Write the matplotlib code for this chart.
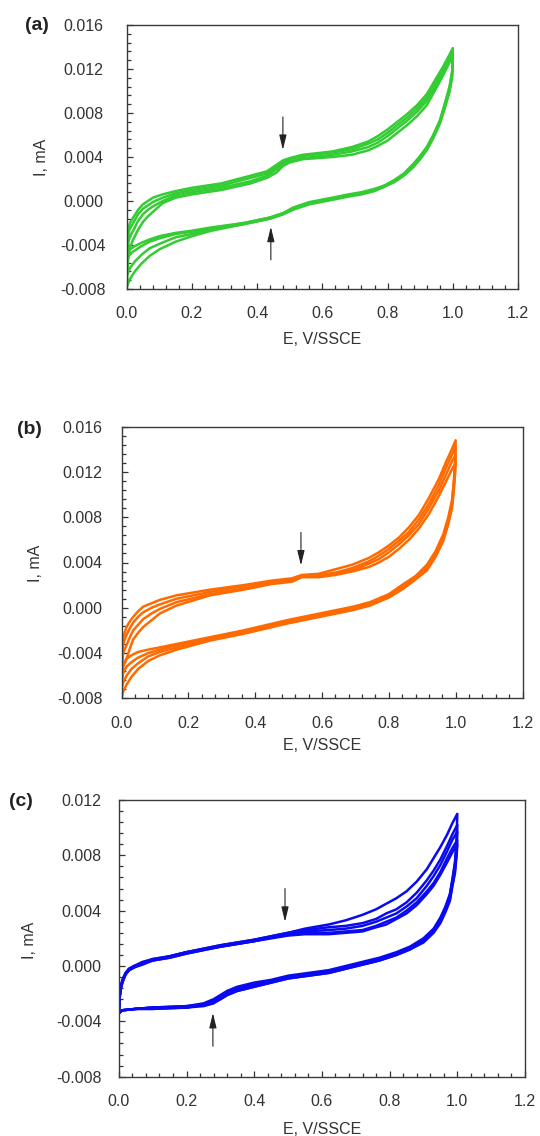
import numpy as np
import matplotlib
matplotlib.use("Agg")
import matplotlib.pyplot as plt
from matplotlib.ticker import MultipleLocator, FormatStrFormatter

plt.rcParams['font.family'] = ['Liberation Sans', 'DejaVu Sans']

# ---------------- panel (a) ----------------
a_E_fwd = [0.0, 0.005, 0.01, 0.02, 0.035, 0.05, 0.065, 0.08, 0.11, 0.15, 0.2, 0.29, 0.38, 0.43, 0.46, 0.48,
           0.5, 0.54, 0.63, 0.69, 0.74, 0.77, 0.8, 0.83, 0.86, 0.89, 0.92, 0.95, 0.97, 0.99, 1.0]
a_fwd = [
    [-0.0045, -0.0025, -0.0020, -0.0015, -0.0008, -0.0003, 0.0000, 0.0003, 0.0006, 0.0009, 0.0012, 0.0016,
     0.0023, 0.0027, 0.0033, 0.0037, 0.0039, 0.0042, 0.0045, 0.0049, 0.0054, 0.0059, 0.0065, 0.0072, 0.0079,
     0.0087, 0.0097, 0.0112, 0.0122, 0.0133, 0.0139],
    [-0.0050, -0.0030, -0.0025, -0.0020, -0.0012, -0.0007, -0.0004, -0.0001, 0.0003, 0.0007, 0.0010, 0.0014,
     0.0021, 0.0025, 0.0031, 0.0035, 0.0038, 0.0041, 0.0044, 0.0047, 0.0052, 0.0056, 0.0062, 0.0069, 0.0076,
     0.0084, 0.0094, 0.0109, 0.0120, 0.0131, 0.0137],
    [-0.0060, -0.0038, -0.0032, -0.0027, -0.0018, -0.0012, -0.0008, -0.0005, 0.0000, 0.0005, 0.0008, 0.0012,
     0.0018, 0.0023, 0.0029, 0.0034, 0.0036, 0.0039, 0.0042, 0.0045, 0.0049, 0.0053, 0.0059, 0.0066, 0.0073,
     0.0081, 0.0091, 0.0106, 0.0117, 0.0129, 0.0135],
    [-0.0078, -0.0050, -0.0042, -0.0035, -0.0026, -0.0019, -0.0014, -0.0010, -0.0002, 0.0003, 0.0006, 0.0010,
     0.0016, 0.0021, 0.0026, 0.0032, 0.0035, 0.0038, 0.0040, 0.0042, 0.0046, 0.0050, 0.0055, 0.0062, 0.0069,
     0.0077, 0.0087, 0.0103, 0.0114, 0.0126, 0.0133],
]
a_E_rev = [1.0, 0.998, 0.99, 0.975, 0.96, 0.94, 0.92, 0.9, 0.88, 0.85, 0.82, 0.79, 0.76, 0.72, 0.68,
           0.63, 0.56, 0.51, 0.48, 0.44, 0.36, 0.26, 0.2, 0.15, 0.1, 0.07, 0.045, 0.025, 0.01, 0.0]
a_rev = [
    [0.0139, 0.0118, 0.0104, 0.0088, 0.0073, 0.0060, 0.0049, 0.0041, 0.0034, 0.0025, 0.0019, 0.0014, 0.0011,
     0.0008, 0.0006, 0.0003, -0.0001, -0.0006, -0.0011, -0.0015, -0.0020, -0.0024, -0.0027, -0.0029, -0.0032,
     -0.0035, -0.0038, -0.0041, -0.0044, -0.0050],
    [0.0137, 0.0116, 0.0103, 0.0087, 0.0072, 0.0059, 0.0048, 0.0040, 0.0033, 0.0024, 0.0018, 0.0014, 0.0010,
     0.0007, 0.0005, 0.0002, -0.0002, -0.0007, -0.0011, -0.0015, -0.0020, -0.0025, -0.0028, -0.0030, -0.0034,
     -0.0037, -0.0041, -0.0045, -0.0048, -0.0055],
    [0.0135, 0.0114, 0.0101, 0.0085, 0.0071, 0.0058, 0.0047, 0.0039, 0.0032, 0.0024, 0.0018, 0.0013, 0.0010,
     0.0007, 0.0005, 0.0002, -0.0002, -0.0007, -0.0012, -0.0016, -0.0021, -0.0026, -0.0030, -0.0033, -0.0039,
     -0.0043, -0.0049, -0.0055, -0.0061, -0.0068],
    [0.0133, 0.0112, 0.0099, 0.0084, 0.0070, 0.0057, 0.0046, 0.0038, 0.0031, 0.0023, 0.0017, 0.0013, 0.0009,
     0.0006, 0.0004, 0.0001, -0.0003, -0.0008, -0.0012, -0.0016, -0.0021, -0.0027, -0.0032, -0.0037, -0.0044,
     -0.0050, -0.0057, -0.0064, -0.0071, -0.0078],
]

# ---------------- panel (b) ----------------
b_E_fwd = [0.0, 0.005, 0.015, 0.025, 0.035, 0.05, 0.065, 0.09, 0.115, 0.165, 0.265, 0.365, 0.45, 0.51, 0.54,
           0.59, 0.64, 0.69, 0.74, 0.77, 0.8, 0.83, 0.86, 0.89, 0.92, 0.95, 0.97, 0.99, 1.0]
b_fwd = [
    [-0.0040, -0.0026, -0.0017, -0.0012, -0.0008, -0.0003, 0.0001, 0.0004, 0.0007, 0.0011, 0.0016, 0.0020,
     0.0024, 0.0026, 0.0029, 0.0030, 0.0034, 0.0038, 0.0044, 0.0049, 0.0055, 0.0062, 0.0071, 0.0082, 0.0097,
     0.0114, 0.0128, 0.0141, 0.0148],
    [-0.0048, -0.0032, -0.0024, -0.0018, -0.0013, -0.0008, -0.0004, 0.0000, 0.0003, 0.0008, 0.0014, 0.0019,
     0.0023, 0.0025, 0.0028, 0.0029, 0.0031, 0.0035, 0.0041, 0.0046, 0.0052, 0.0059, 0.0067, 0.0078, 0.0092,
     0.0109, 0.0123, 0.0136, 0.0143],
    [-0.0058, -0.0040, -0.0033, -0.0026, -0.0020, -0.0015, -0.0010, -0.0005, -0.0001, 0.0005, 0.0012, 0.0017,
     0.0022, 0.0024, 0.0028, 0.0028, 0.0030, 0.0033, 0.0039, 0.0043, 0.0049, 0.0056, 0.0064, 0.0074, 0.0088,
     0.0104, 0.0117, 0.0130, 0.0135],
    [-0.0070, -0.0052, -0.0045, -0.0036, -0.0028, -0.0022, -0.0017, -0.0011, -0.0005, 0.0002, 0.0011, 0.0016,
     0.0021, 0.0023, 0.0027, 0.0027, 0.0029, 0.0032, 0.0036, 0.0040, 0.0045, 0.0052, 0.0060, 0.0070, 0.0083,
     0.0099, 0.0111, 0.0123, 0.0128],
]
b_E_rev = [1.0, 0.998, 0.994, 0.989, 0.978, 0.963, 0.94, 0.914, 0.88, 0.844, 0.8, 0.744, 0.694, 0.644,
           0.594, 0.495, 0.365, 0.265, 0.165, 0.115, 0.08, 0.05, 0.03, 0.015, 0.005, 0.0]
b_rev = [
    [0.0148, 0.0128, 0.0110, 0.0095, 0.0080, 0.0065, 0.0050, 0.0038, 0.0028, 0.0021, 0.0012, 0.0005, 0.0001,
     -0.0002, -0.0005, -0.0011, -0.0020, -0.0026, -0.0032, -0.0035, -0.0037, -0.0039, -0.0042, -0.0045,
     -0.0050, -0.0056],
    [0.0143, 0.0125, 0.0108, 0.0093, 0.0078, 0.0063, 0.0048, 0.0036, 0.0027, 0.0019, 0.0011, 0.0004, 0.0000,
     -0.0003, -0.0006, -0.0012, -0.0021, -0.0027, -0.0033, -0.0037, -0.0040, -0.0044, -0.0048, -0.0052,
     -0.0058, -0.0064],
    [0.0135, 0.0121, 0.0105, 0.0090, 0.0076, 0.0061, 0.0047, 0.0035, 0.0026, 0.0018, 0.0010, 0.0003, -0.0001,
     -0.0004, -0.0007, -0.0013, -0.0022, -0.0028, -0.0035, -0.0039, -0.0043, -0.0049, -0.0054, -0.0060,
     -0.0066, -0.0072],
    [0.0128, 0.0117, 0.0102, 0.0088, 0.0074, 0.0059, 0.0045, 0.0033, 0.0025, 0.0017, 0.0009, 0.0002, -0.0002,
     -0.0005, -0.0008, -0.0014, -0.0023, -0.0029, -0.0037, -0.0042, -0.0047, -0.0054, -0.0061, -0.0068,
     -0.0074, -0.0079],
]

# ---------------- panel (c) ----------------
c_E_fwd = [0.0, 0.003, 0.007, 0.012, 0.02, 0.03, 0.045, 0.07, 0.1, 0.15, 0.2, 0.3, 0.4, 0.5, 0.55, 0.62,
           0.67, 0.72, 0.76, 0.79, 0.82, 0.85, 0.88, 0.91, 0.93, 0.95, 0.97, 0.985, 1.0]
c_fwd = [
    [-0.0034, -0.0020, -0.0013, -0.0009, -0.0005, -0.0002, 0.0000, 0.0003, 0.0005, 0.0007, 0.0010, 0.0015,
     0.0019, 0.0024, 0.0027, 0.0030, 0.0033, 0.0037, 0.0041, 0.0045, 0.0049, 0.0054, 0.0061, 0.0070, 0.0078,
     0.0086, 0.0095, 0.0103, 0.0110],
    [-0.0034, -0.0021, -0.0014, -0.0010, -0.0005, -0.0002, 0.0000, 0.0002, 0.0005, 0.0007, 0.0010, 0.0015,
     0.0019, 0.0024, 0.0026, 0.0028, 0.0029, 0.0031, 0.0034, 0.0038, 0.0041, 0.0046, 0.0053, 0.0062, 0.0069,
     0.0077, 0.0087, 0.0095, 0.0102],
    [-0.0034, -0.0021, -0.0014, -0.0010, -0.0006, -0.0003, -0.0001, 0.0002, 0.0004, 0.0007, 0.0010, 0.0014,
     0.0018, 0.0023, 0.0025, 0.0026, 0.0027, 0.0029, 0.0032, 0.0035, 0.0038, 0.0043, 0.0049, 0.0058, 0.0065,
     0.0073, 0.0083, 0.0091, 0.0097],
    [-0.0034, -0.0022, -0.0015, -0.0011, -0.0006, -0.0003, -0.0001, 0.0002, 0.0004, 0.0006, 0.0009, 0.0014,
     0.0018, 0.0023, 0.0024, 0.0024, 0.0025, 0.0026, 0.0029, 0.0032, 0.0035, 0.0040, 0.0046, 0.0054, 0.0060,
     0.0068, 0.0078, 0.0085, 0.0091],
    [-0.0034, -0.0022, -0.0015, -0.0011, -0.0006, -0.0003, -0.0001, 0.0001, 0.0004, 0.0006, 0.0009, 0.0014,
     0.0018, 0.0022, 0.0023, 0.0023, 0.0024, 0.0025, 0.0028, 0.0030, 0.0034, 0.0038, 0.0044, 0.0052, 0.0058,
     0.0066, 0.0075, 0.0082, 0.0088],
]
c_E_rev = [1.0, 0.998, 0.993, 0.985, 0.978, 0.965, 0.95, 0.93, 0.9, 0.86, 0.82, 0.77, 0.72, 0.67, 0.62,
           0.5, 0.45, 0.4, 0.35, 0.32, 0.3, 0.28, 0.25, 0.2, 0.1, 0.05, 0.01, 0.0]
c_rev = [
    [0.0110, 0.0092, 0.0075, 0.0062, 0.0052, 0.0043, 0.0035, 0.0027, 0.0020, 0.0014, 0.0010, 0.0006, 0.0003,
     0.0000, -0.0003, -0.0007, -0.0010, -0.0012, -0.0015, -0.0018, -0.0021, -0.0024, -0.0027, -0.0029,
     -0.0030, -0.0031, -0.0032, -0.0034],
    [0.0102, 0.0088, 0.0073, 0.0061, 0.0051, 0.0042, 0.0034, 0.0026, 0.0019, 0.0013, 0.0009, 0.0005, 0.0002,
     -0.0001, -0.0004, -0.0008, -0.0011, -0.0013, -0.0016, -0.0019, -0.0022, -0.0025, -0.0028, -0.0029,
     -0.0030, -0.0031, -0.0032, -0.0034],
    [0.0097, 0.0085, 0.0071, 0.0060, 0.0050, 0.0041, 0.0033, 0.0025, 0.0018, 0.0013, 0.0009, 0.0005, 0.0002,
     -0.0001, -0.0004, -0.0008, -0.0011, -0.0014, -0.0017, -0.0020, -0.0023, -0.0026, -0.0028, -0.0030,
     -0.0030, -0.0031, -0.0032, -0.0034],
    [0.0091, 0.0082, 0.0069, 0.0058, 0.0048, 0.0040, 0.0032, 0.0025, 0.0018, 0.0012, 0.0008, 0.0004, 0.0001,
     -0.0002, -0.0005, -0.0009, -0.0012, -0.0015, -0.0018, -0.0021, -0.0024, -0.0026, -0.0028, -0.0030,
     -0.0031, -0.0031, -0.0032, -0.0034],
    [0.0088, 0.0080, 0.0067, 0.0057, 0.0047, 0.0039, 0.0031, 0.0024, 0.0017, 0.0012, 0.0008, 0.0004, 0.0001,
     -0.0002, -0.0005, -0.0009, -0.0012, -0.0015, -0.0018, -0.0021, -0.0024, -0.0027, -0.0029, -0.0030,
     -0.0031, -0.0031, -0.0032, -0.0034],
]

# arrows (tail E, tail I, head E, head I)
a_arrows = [(0.479, 0.0079, 0.479, 0.0044), (0.442, -0.0056, 0.442, -0.0021)]
b_arrows = [(0.537, 0.0069, 0.537, 0.0035)]
c_arrows = [(0.491, 0.0058, 0.491, 0.0030), (0.278, -0.0060, 0.278, -0.0032)]

W, H = 540, 1136
fig = plt.figure(figsize=(W / 100, H / 100), dpi=100)
TXT = '#333333'


def px_axes(left, top, right, bottom):
    return [left / W, 1 - bottom / H, (right - left) / W, (bottom - top) / H]


def draw_cv(ax, E_fwd, fwd, E_rev, rev, color, ymin, ymax, arrows, ypad, center_labels=False):
    for i_f, i_r in zip(fwd, rev):
        ax.plot(E_fwd + E_rev, i_f + i_r, color=color, lw=1.8, solid_joinstyle='round')
    for x0, y0, x1, y1 in arrows:
        ax.annotate('', xy=(x1, y1), xytext=(x0, y0),
                    arrowprops=dict(arrowstyle='-|>,head_length=0.9,head_width=0.22',
                                    color='#222222', lw=0.8, mutation_scale=10))
    ax.set_xlim(0, 1.2)
    ax.set_ylim(ymin, ymax)
    ax.xaxis.set_major_locator(MultipleLocator(0.2))
    ax.xaxis.set_minor_locator(MultipleLocator(0.04))
    ax.yaxis.set_major_locator(MultipleLocator(0.004))
    ax.yaxis.set_minor_locator(MultipleLocator(0.0008))
    ax.xaxis.set_major_formatter(FormatStrFormatter('%.1f'))
    ax.yaxis.set_major_formatter(FormatStrFormatter('%.3f'))
    ax.tick_params(which='both', direction='in', top=False, right=False,
                   colors=TXT, labelsize=11.5, width=0.9)
    ax.tick_params(which='major', length=4.5)
    ax.tick_params(which='minor', length=3)
    ax.tick_params(axis='x', pad=12.5)
    ax.tick_params(axis='y', pad=ypad)
    if center_labels:
        for t in ax.get_yticklabels():
            t.set_ha('center')
    for s in ax.spines.values():
        s.set_color('#3a3a3a')
        s.set_linewidth(1.0)


ax_a = fig.add_axes(px_axes(126.7, 25, 518, 289))
draw_cv(ax_a, a_E_fwd, a_fwd, a_E_rev, a_rev, '#33CC33', -0.008, 0.016, a_arrows, 31.5, True)
ax_b = fig.add_axes(px_axes(121.5, 426.7, 522.5, 698.3))
draw_cv(ax_b, b_E_fwd, b_fwd, b_E_rev, b_rev, '#FF6A00', -0.008, 0.016, b_arrows, 13.7)
ax_c = fig.add_axes(px_axes(118.8, 800, 525, 1076.7))
draw_cv(ax_c, c_E_fwd, c_fwd, c_E_rev, c_rev, '#0A0AF0', -0.008, 0.012, c_arrows, 12.5)

# labels placed in pixel positions
labels = [
    ('(a)', 37, 25, 0, 'bold'), ('(b)', 29, 430, 0, 'bold'), ('(c)', 21, 802, 0, 'bold'),
    ('I, mA', 42, 157, 90, 'normal'), ('I, mA', 35, 563, 90, 'normal'), ('I, mA', 30, 940, 90, 'normal'),
    ('E, V/SSCE', 322, 340, 0, 'normal'), ('E, V/SSCE', 322, 746, 0, 'normal'),
    ('E, V/SSCE', 322, 1129, 0, 'normal'),
]
for txt, x, y, rot, wt in labels:
    fig.text(x / W, 1 - y / H, txt, ha='center', va='center', rotation=rot,
             fontsize=14 if wt == 'bold' else 11.5, fontweight=wt, color=TXT if wt == 'normal' else '#222222')

plt.savefig('out.png', dpi=100)
